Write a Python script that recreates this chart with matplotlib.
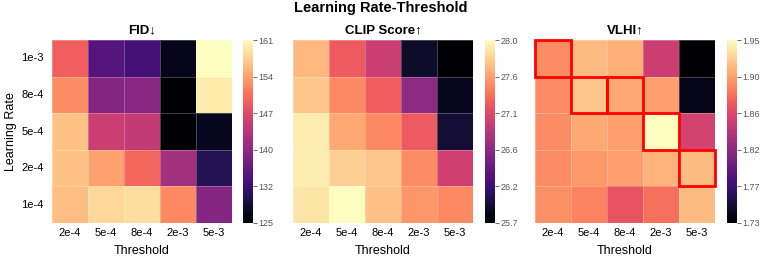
import numpy as np
import matplotlib
matplotlib.use("Agg")
import matplotlib.pyplot as plt
import matplotlib.patches as patches
import seaborn as sns

plt.rcParams['font.family'] = ['Liberation Sans', 'DejaVu Sans']

# datos
learning_rates = ['1e-3', '8e-4', '5e-4', '2e-4', '1e-4']
thresholds = ['2e-4', '5e-4', '8e-4', '2e-3', '5e-3']

fid = np.array([
    [148.9, 134.6, 133.2, 127.1, 161.0],
    [152.4, 138.9, 139.2, 125.3, 159.6],
    [156.4, 144.9, 144.2, 125.7, 127.4],
    [156.4, 153.9, 149.6, 141.4, 130.7],
    [156.0, 158.1, 158.5, 152.1, 138.9],
])

clip_score = np.array([
    [27.69, 27.23, 26.99, 25.91, 25.72],
    [27.76, 27.46, 27.25, 26.65, 25.84],
    [27.95, 27.62, 27.46, 27.23, 25.95],
    [27.95, 27.81, 27.76, 27.48, 27.02],
    [27.92, 28.04, 27.74, 27.53, 27.46],
])

vlhi = np.array([
    [1.895, 1.917, 1.911, 1.849, 1.728],
    [1.895, 1.922, 1.908, 1.904, 1.737],
    [1.895, 1.908, 1.904, 1.948, 1.853],
    [1.895, 1.900, 1.904, 1.913, 1.917],
    [1.897, 1.891, 1.867, 1.882, 1.917],
])

# celdas resaltadas (fila, columna)
best_cells = [(0, 0), (1, 1), (1, 2), (2, 3), (3, 4)]

fig = plt.figure(figsize=(7.61, 2.58), dpi=100)

bottom = 0.1357
height = 0.709
paneles = [
    (fid, 'FID\u2193', '%.0f', 0.0683, 0.3193),
    (clip_score, 'CLIP Score\u2191', '%.1f', 0.3850, 0.6373),
    (vlhi, 'VLHI\u2191', '%.2f', 0.7030, 0.9553),
]

for i, (datos, titulo, fmt, x_ax, x_cb) in enumerate(paneles):
    ax = fig.add_axes([x_ax, bottom, 0.2365, height])
    cax = fig.add_axes([x_cb, bottom, 0.0131, height])
    sns.heatmap(datos, ax=ax, cbar_ax=cax, cmap='magma',
                xticklabels=thresholds, yticklabels=learning_rates,
                linewidths=0.4, linecolor=(1, 1, 1, 0.25))
    ax.set_title(titulo, fontsize=9.5, fontweight='bold', pad=5)
    ax.set_xlabel('Threshold', fontsize=9, labelpad=5)
    ax.tick_params(axis='both', length=0, labelsize=8, pad=3.5)
    ax.tick_params(axis='y', pad=6)
    ax.set_yticklabels(learning_rates, rotation=0)
    ax.set_xticklabels(thresholds, rotation=0)
    if i == 0:
        ax.set_ylabel('Learning Rate', fontsize=9)
        ax.yaxis.set_label_coords(-0.195, 0.5)
    else:
        ax.set_ylabel('')
        ax.set_yticklabels([])

    vmin, vmax = datos.min(), datos.max()
    cax.set_yticks(np.linspace(vmin, vmax, 6))
    cax.yaxis.set_major_formatter(matplotlib.ticker.FormatStrFormatter(fmt))
    cax.tick_params(labelsize=6.5, length=3, width=0.6, colors='#555555', pad=1)

    if i == 2:
        for (r, c) in best_cells:
            ax.add_patch(patches.Rectangle((c, r), 1, 1, fill=False,
                                           edgecolor='red', lw=2, clip_on=False))

fig.suptitle('Learning Rate-Threshold', fontsize=10.5, fontweight='bold', y=0.995)

fig.savefig('out.png', dpi=100)
